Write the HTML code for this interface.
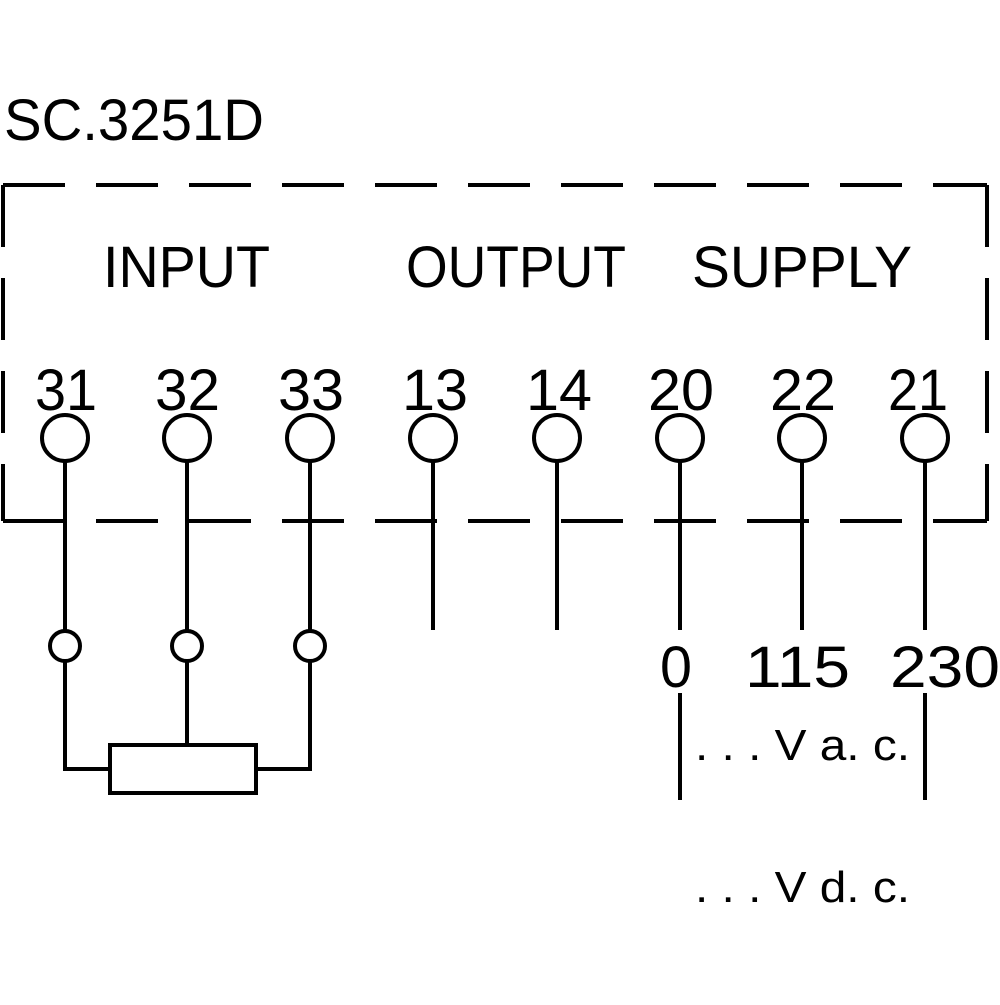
<!DOCTYPE html>
<html><head><style>html,body{margin:0;padding:0;background:#fff}</style></head>
<body>
<svg width="1000" height="1000" viewBox="0 0 1000 1000" xmlns="http://www.w3.org/2000/svg">
<g stroke="#000" stroke-width="4" fill="none">
<path d="M3 185 H987" stroke-dasharray="62 31"/>
<path d="M987 185 V521" stroke-dasharray="62 31"/>
<path d="M3 185 V521" stroke-dasharray="62 31"/>
<path d="M3 521 H987" stroke-dasharray="62 31"/>
<g>
<circle cx="65" cy="438" r="23"/><circle cx="187" cy="438" r="23"/><circle cx="310" cy="438" r="23"/>
<circle cx="433" cy="438" r="23"/><circle cx="557" cy="438" r="23"/><circle cx="680" cy="438" r="23"/>
<circle cx="802" cy="438" r="23"/><circle cx="925" cy="438" r="23"/>
</g>
<path d="M65 461 V630 M187 461 V630 M310 461 V630"/>
<path d="M433 461 V630 M557 461 V630 M680 461 V630 M802 461 V630 M925 461 V630"/>
<circle cx="65" cy="646" r="15"/><circle cx="187" cy="646" r="15"/><circle cx="310" cy="646" r="15"/>
<path d="M65 661 V769 H110 M187 661 V745 M310 661 V769 H256"/>
<rect x="110" y="745" width="146" height="48"/>
<path d="M680 693 V800 M925 693 V800"/>
</g>
<g font-family="Liberation Sans, sans-serif" fill="#000" font-size="58">
<text x="4" y="140" textLength="260" lengthAdjust="spacingAndGlyphs">SC.3251D</text>
<text x="103" y="287" textLength="167" lengthAdjust="spacingAndGlyphs">INPUT</text>
<text x="406" y="287" textLength="220" lengthAdjust="spacingAndGlyphs">OUTPUT</text>
<text x="692" y="287" textLength="220" lengthAdjust="spacingAndGlyphs">SUPPLY</text>
<g>
<text x="35" y="410" textLength="62" lengthAdjust="spacingAndGlyphs">31</text>
<text x="155" y="410" textLength="65" lengthAdjust="spacingAndGlyphs">32</text>
<text x="278" y="410" textLength="66" lengthAdjust="spacingAndGlyphs">33</text>
<text x="402" y="410" textLength="66" lengthAdjust="spacingAndGlyphs">13</text>
<text x="526" y="410" textLength="66" lengthAdjust="spacingAndGlyphs">14</text>
<text x="648" y="410" textLength="66" lengthAdjust="spacingAndGlyphs">20</text>
<text x="770" y="410" textLength="66" lengthAdjust="spacingAndGlyphs">22</text>
<text x="888" y="410" textLength="60" lengthAdjust="spacingAndGlyphs">21</text>
</g>
<text x="660" y="687" textLength="32" lengthAdjust="spacingAndGlyphs">0</text>
<text x="745" y="687" textLength="105" lengthAdjust="spacingAndGlyphs">115</text>
<text x="890" y="687" textLength="110" lengthAdjust="spacingAndGlyphs">230</text>
<text x="695" y="760" font-size="44" textLength="215" lengthAdjust="spacingAndGlyphs">. . . V a. c.</text>
<text x="695" y="902" font-size="44" textLength="215" lengthAdjust="spacingAndGlyphs">. . . V d. c.</text>
</g>
</svg>
</body></html>
